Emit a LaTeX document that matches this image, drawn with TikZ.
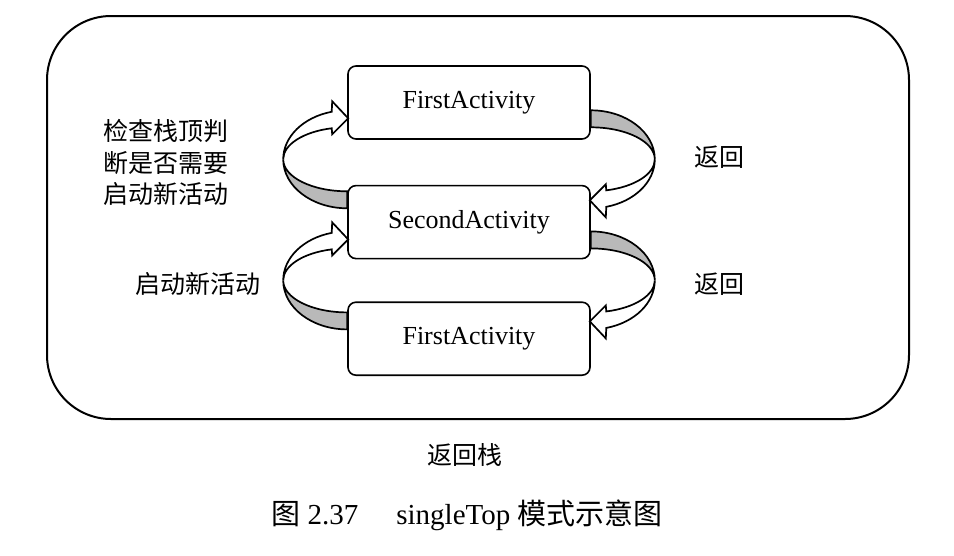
\documentclass[tikz,border=0pt]{standalone}
\usepackage{fontspec}
\setmainfont{Liberation Serif}
\newfontfamily\cjk{Noto Sans CJK SC}
\usetikzlibrary{positioning, calc}

\begin{document}
\begin{tikzpicture}[
    x=1pt, y=-1pt,
    % Node styles
    activity/.style={rectangle, draw=black, line width=1.6pt, rounded corners=8pt,
                     minimum width=242pt, minimum height=73pt, text centered,
                     font=\fontsize{26}{30}\selectfont},
    note/.style={font=\cjk\fontsize{25}{31.5}\selectfont, inner sep=0pt},
    % Turning arrow: white half with head on top, shaded half below
    turnarrow/.pic={
        \filldraw[line width=1.7pt, fill=gray!55]
            (-64,0) arc[start angle=180, end angle=90, x radius=64, y radius=49]
            -- (0,32) arc[start angle=90, end angle=180, x radius=64, y radius=32] -- cycle;
        \filldraw[line width=1.7pt, fill=white, line join=miter]
            (1,-41) -- (-15,-58) -- (-15.48,-47.54)
            arc[start angle=256, end angle=180, x radius=64, y radius=49]
            arc[start angle=180, end angle=256, x radius=64, y radius=32]
            -- (-15,-25) -- cycle;
    }
]
\useasboundingbox (0,0) rectangle (954,555);

% Back stack frame
\draw[line width=2pt, rounded corners=64pt] (47,16) rectangle (909,419);

% Activities
\node[activity] (first) at (469,102.5) {FirstActivity};
\node[activity, below=45pt of first] (second) {SecondActivity};
\node[activity, below=42pt of second] (third) {FirstActivity};

% Turning arrows
\pic at ($(first.south west)!0.5!(second.north west)+(0,-3)$) {turnarrow};
\pic[rotate=180] at ($(first.south east)!0.5!(second.north east)+(0,-3)$) {turnarrow};
\pic at ($(second.south west)!0.5!(third.north west)$) {turnarrow};
\pic[rotate=180] at ($(second.south east)!0.5!(third.north east)$) {turnarrow};

% Labels
\node[note, align=left] (check) at (166,162.5) {检查栈顶判\\断是否需要\\启动新活动};
\node[note] (start) at (198,284) {启动新活动};
\node[note] (back1) at (719,157) {返回};
\node[note] (back2) at (719,284) {返回};
\node[note] (stack) at (465,455) {返回栈};

% Caption
\node[font=\fontsize{29}{34}\selectfont] (caption) at (467,515)
    {{\cjk 图} 2.37\hspace{38pt}singleTop {\cjk 模式示意图}};

\end{tikzpicture}
\end{document}
